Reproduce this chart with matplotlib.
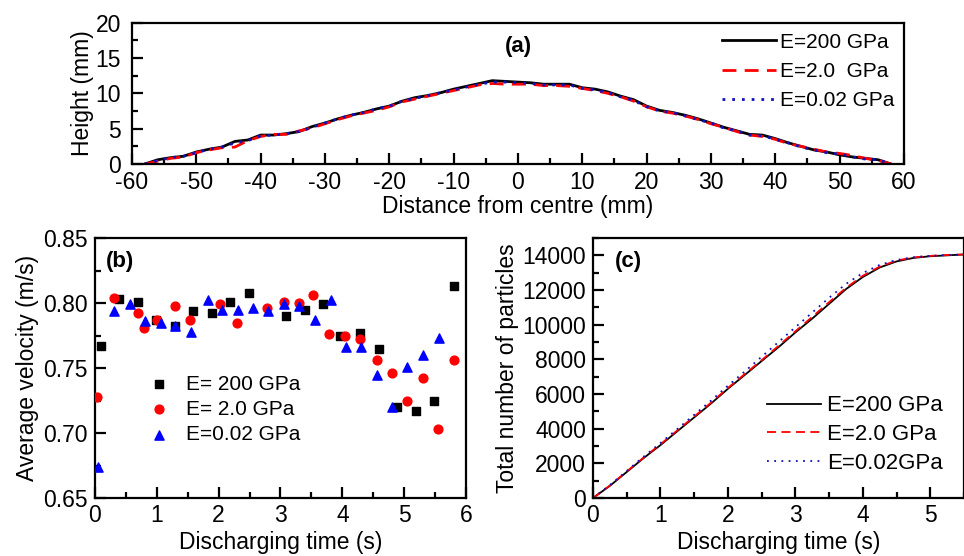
import numpy as np
import matplotlib
matplotlib.use("Agg")
import matplotlib.pyplot as plt
from matplotlib.ticker import MultipleLocator, FormatStrFormatter

plt.rcParams["font.family"] = ["Liberation Sans", "DejaVu Sans"]
plt.rcParams["axes.unicode_minus"] = False

# %% Data

# (a) heap profile, height (mm) vs distance from centre (mm)
dist = np.arange(-58, 58.1, 2)
h_200 = [0.0, 0.6, 0.9, 1.1, 1.7, 2.1, 2.4, 3.2, 3.4, 4.1,
         4.1, 4.3, 4.6, 5.3, 5.8, 6.4, 6.9, 7.3, 7.8, 8.2,
         8.9, 9.4, 9.7, 10.1, 10.6, 11.0, 11.4, 11.8, 11.7, 11.6,
         11.5, 11.3, 11.3, 11.3, 10.8, 10.6, 10.2, 9.6, 9.1, 8.2,
         7.6, 7.3, 6.9, 6.4, 5.8, 5.2, 4.7, 4.2, 4.1, 3.6,
         3.0, 2.5, 2.0, 1.7, 1.3, 1.0, 0.8, 0.6, 0.0]
h_2 = [0.0, 0.4, 0.8, 1.0, 1.6, 2.0, 2.3, 2.4, 3.3, 3.9,
       4.2, 4.2, 4.7, 5.1, 5.7, 6.3, 6.8, 7.2, 7.6, 8.1,
       8.8, 9.2, 9.6, 10.0, 10.4, 10.8, 11.2, 11.4, 11.3, 11.3,
       11.3, 11.1, 11.1, 11.0, 10.7, 10.4, 10.0, 9.5, 8.9, 8.1,
       7.5, 7.2, 6.8, 6.3, 5.7, 5.2, 4.6, 4.1, 3.9, 3.5,
       2.9, 2.5, 2.1, 1.7, 1.5, 1.2, 0.8, 0.5, 0.0]
h_002 = [0.0, 0.5, 0.9, 1.1, 1.6, 2.1, 2.4, 3.0, 3.3, 4.0,
         4.1, 4.3, 4.6, 5.2, 5.8, 6.4, 6.9, 7.3, 7.8, 8.2,
         8.9, 9.3, 9.7, 10.1, 10.5, 10.9, 11.3, 11.6, 11.6, 11.5,
         11.4, 11.2, 11.2, 11.2, 10.7, 10.5, 10.1, 9.5, 9.0, 8.1,
         7.5, 7.3, 6.8, 6.3, 5.8, 5.1, 4.7, 4.1, 4.0, 3.5,
         3.0, 2.4, 2.0, 1.6, 1.4, 1.0, 0.7, 0.6, 0.0]

# (b) average velocity (m/s) vs discharging time (s)
t_200 = [0.10, 0.39, 0.69, 0.99, 1.29, 1.59, 1.89, 2.18, 2.49, 3.09,
         3.39, 3.69, 3.97, 4.29, 4.59, 4.89, 5.19, 5.49, 5.80]
v_200 = [0.767, 0.803, 0.801, 0.787, 0.782, 0.794, 0.792, 0.801, 0.808, 0.790,
         0.795, 0.799, 0.775, 0.777, 0.765, 0.720, 0.717, 0.725, 0.813]
t_2 = [0.03, 0.30, 0.69, 0.79, 1.00, 1.29, 1.54, 2.03, 2.29, 2.78, 3.05,
       3.30, 3.53, 3.79, 4.05, 4.29, 4.56, 4.80, 5.04, 5.30, 5.54, 5.80]
v_2 = [0.728, 0.804, 0.792, 0.781, 0.787, 0.798, 0.787, 0.799, 0.785, 0.796, 0.801,
       0.800, 0.806, 0.776, 0.775, 0.772, 0.756, 0.746, 0.725, 0.742, 0.703, 0.756]
t_002 = [0.05, 0.31, 0.57, 0.81, 1.07, 1.30, 1.56, 1.82, 2.06, 2.31, 2.56, 2.80,
         3.06, 3.30, 3.56, 3.81, 4.06, 4.31, 4.56, 4.81, 5.05, 5.31, 5.57]
v_002 = [0.674, 0.794, 0.799, 0.786, 0.785, 0.782, 0.778, 0.802, 0.795, 0.795, 0.796, 0.794,
         0.799, 0.798, 0.787, 0.802, 0.766, 0.766, 0.745, 0.720, 0.751, 0.760, 0.773]

# (c) total number of discharged particles vs time (s)
t_c = np.arange(0, 5.51, 0.25)
n_200 = [0, 700, 1500, 2300, 3050, 3850, 4650, 5450, 6300, 7100, 7900, 8700,
         9550, 10350, 11200, 12050, 12750, 13300, 13650, 13850, 13950, 14000, 14050]
n_2 = [0, 720, 1530, 2330, 3100, 3900, 4700, 5500, 6350, 7150, 7950, 8780,
       9620, 10450, 11300, 12120, 12820, 13350, 13700, 13880, 13970, 14020, 14050]
n_002 = [0, 740, 1560, 2380, 3170, 3980, 4800, 5620, 6480, 7300, 8150, 9000,
         9850, 10700, 11550, 12350, 12980, 13450, 13730, 13890, 13970, 14020, 14050]

labels_a = ["E=200 GPa", "E=2.0  GPa", "E=0.02 GPa"]
labels_b = ["E= 200 GPa", "E= 2.0 GPa", "E=0.02 GPa"]
labels_c = ["E=200 GPa", "E=2.0 GPa", "E=0.02GPa"]


# %% Figure

fs_tick = 16.5
fs_lab = 16.5

fig = plt.figure(figsize=(9.64, 5.56), dpi=100)
ax_a = fig.add_axes([0.1369, 0.7050, 0.8008, 0.2541])
ax_b = fig.add_axes([0.0985, 0.1043, 0.3849, 0.4676])
ax_c = fig.add_axes([0.6151, 0.1043, 0.3849, 0.4676])


def style(ax):
    for s in ax.spines.values():
        s.set_linewidth(1.6)
    ax.tick_params(which="both", direction="in", width=1.6, labelsize=fs_tick,
                   top=False, right=False)
    ax.tick_params(which="major", length=8)
    ax.tick_params(which="minor", length=4)
    ax.tick_params(axis="x", which="major", pad=4)
    ax.tick_params(axis="y", which="major", pad=5)


# (a)
ax_a.plot(dist, h_200, color="black", lw=2.0, label=labels_a[0])
ax_a.plot(dist, h_2, color="red", lw=2.0, ls=(0, (5, 3)), label=labels_a[1])
ax_a.plot(dist, h_002, color="#1010c0", lw=2.0, ls=(0, (1, 2.5)), label=labels_a[2])
ax_a.set_xlim(-60, 60)
ax_a.set_ylim(0, 20)
ax_a.xaxis.set_major_locator(MultipleLocator(10))
ax_a.xaxis.set_minor_locator(MultipleLocator(5))
ax_a.yaxis.set_major_locator(MultipleLocator(5))
ax_a.yaxis.set_minor_locator(MultipleLocator(2.5))
style(ax_a)
ax_a.tick_params(axis="y", which="major", pad=8)
ax_a.tick_params(axis="x", which="major", pad=5)
ax_a.set_xlabel("Distance from centre (mm)", fontsize=fs_lab, labelpad=1)
ax_a.set_ylabel("Height (mm)", fontsize=fs_lab, labelpad=1)
ax_a.text(0.5, 0.83, "(a)", transform=ax_a.transAxes, ha="center", va="center",
          fontsize=16, fontweight="bold")
ax_a.legend(loc="upper left", bbox_to_anchor=(0.764, 0.93), frameon=False,
            fontsize=15, handlelength=2.6, handletextpad=0.2,
            labelspacing=0.5, borderpad=0, borderaxespad=0)

# (b)
ax_b.scatter(t_200, v_200, marker="s", s=36, color="black", label=labels_b[0], zorder=3)
ax_b.scatter(t_2, v_2, marker="o", s=40, color="red", label=labels_b[1], zorder=3)
ax_b.scatter(t_002, v_002, marker="^", s=44, color="blue", label=labels_b[2], zorder=3)
ax_b.set_xlim(0, 6)
ax_b.set_ylim(0.65, 0.85)
ax_b.xaxis.set_major_locator(MultipleLocator(1))
ax_b.xaxis.set_minor_locator(MultipleLocator(0.5))
ax_b.yaxis.set_major_locator(MultipleLocator(0.05))
ax_b.yaxis.set_minor_locator(MultipleLocator(0.025))
ax_b.yaxis.set_major_formatter(FormatStrFormatter("%.2f"))
style(ax_b)
ax_b.set_xlabel("Discharging time (s)", fontsize=fs_lab, labelpad=3)
ax_b.set_ylabel("Average velocity (m/s)", fontsize=fs_lab, labelpad=3)
ax_b.text(0.03, 0.91, "(b)", transform=ax_b.transAxes, ha="left", va="center",
          fontsize=16, fontweight="bold")
ax_b.legend(loc="upper left", bbox_to_anchor=(0.145, 0.475), frameon=False,
            fontsize=15, handlelength=1.0, handletextpad=0.8,
            labelspacing=0.3, borderpad=0, borderaxespad=0, scatterpoints=1)

# (c)
ax_c.plot(t_c, n_200, color="black", lw=1.3, label=labels_c[0])
ax_c.plot(t_c, n_2, color="red", lw=1.3, ls=(0, (5, 3)), label=labels_c[1])
ax_c.plot(t_c, n_002, color="#1010c0", lw=1.3, ls=(0, (1, 3)), label=labels_c[2])
ax_c.set_xlim(0, 5.5)
ax_c.set_ylim(0, 15000)
ax_c.xaxis.set_major_locator(MultipleLocator(1))
ax_c.xaxis.set_minor_locator(MultipleLocator(0.5))
ax_c.yaxis.set_major_locator(MultipleLocator(2000))
ax_c.yaxis.set_minor_locator(MultipleLocator(1000))
style(ax_c)
ax_c.set_xlabel("Discharging time (s)", fontsize=fs_lab, labelpad=3)
ax_c.set_ylabel("Total number of particles", fontsize=fs_lab, labelpad=2)
ax_c.text(0.06, 0.91, "(c)", transform=ax_c.transAxes, ha="left", va="center",
          fontsize=16, fontweight="bold")
ax_c.legend(loc="upper left", bbox_to_anchor=(0.47, 0.395), frameon=False,
            fontsize=16, handlelength=2.4, handletextpad=0.3,
            labelspacing=0.35, borderpad=0, borderaxespad=0)

fig.savefig("out.png", dpi=100)
